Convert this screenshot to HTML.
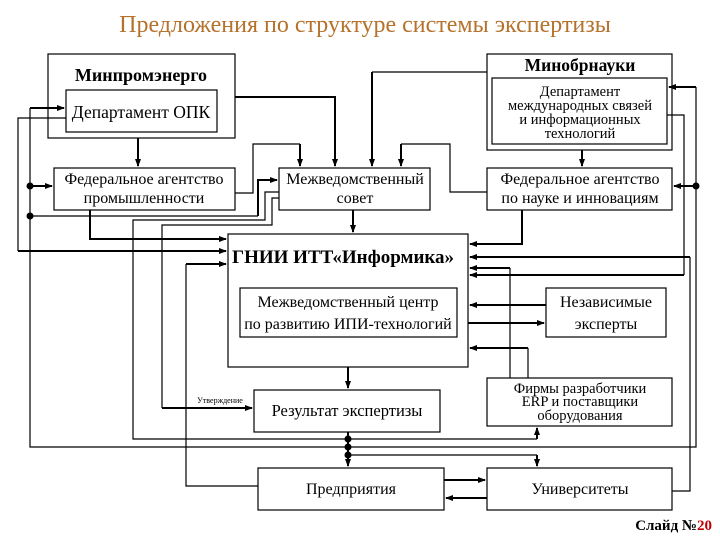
<!DOCTYPE html>
<html><head><meta charset="utf-8"><style>
html,body{margin:0;padding:0;background:#fff;}
svg{display:block;}
text{font-family:"Liberation Serif","DejaVu Serif",serif;fill:#000;}
</style></head><body>
<svg width="720" height="540" viewBox="0 0 720 540" xmlns="http://www.w3.org/2000/svg">
<defs>
<marker id="a" markerWidth="8" markerHeight="8" refX="7" refY="4" orient="auto" markerUnits="userSpaceOnUse">
<path d="M0,1 L8,4 L0,7 z" fill="#000"/></marker>
</defs>
<text x="365" y="32" font-size="24" text-anchor="middle" style="fill:#B5722C">Предложения по структуре системы экспертизы</text>

<g fill="#fff" stroke="#000" stroke-width="1.2">
<rect x="48" y="54" width="187" height="84"/>
<rect x="66" y="90" width="151" height="42"/>
<rect x="54" y="168" width="181" height="42"/>
<rect x="279" y="168" width="151" height="42"/>
<rect x="487" y="54" width="185" height="96"/>
<rect x="492" y="78" width="175" height="66"/>
<rect x="487" y="168" width="185" height="42"/>
<rect x="228" y="234" width="240" height="133"/>
<rect x="240" y="288" width="217" height="49"/>
<rect x="546" y="288" width="120" height="49"/>
<rect x="254" y="390" width="186" height="42"/>
<rect x="487" y="378" width="185" height="48"/>
<rect x="258" y="468" width="186" height="42"/>
<rect x="487" y="468" width="185" height="42"/>
</g>

<g font-size="16" text-anchor="middle">
<text x="141" y="81" font-size="18" font-weight="bold">Минпромэнерго</text>
<text x="141" y="118" font-size="17.5">Департамент ОПК</text>
<text x="144" y="184">Федеральное агентство</text>
<text x="144" y="203">промышленности</text>
<text x="355" y="184">Межведомственный</text>
<text x="355" y="203">совет</text>
<text x="580" y="71" font-size="17.5" font-weight="bold">Минобрнауки</text>
<text x="580" y="96" font-size="14.5">Департамент</text>
<text x="580" y="110" font-size="14.5">международных связей</text>
<text x="580" y="124" font-size="14.5">и информационных</text>
<text x="580" y="138" font-size="14.5">технологий</text>
<text x="580" y="184">Федеральное агентство</text>
<text x="580" y="203">по науке и инновациям</text>
<text x="232" y="263" font-size="19" font-weight="bold" text-anchor="start">ГНИИ ИТТ«Информика»</text>
<text x="348" y="307">Межведомственный центр</text>
<text x="348" y="329">по развитию ИПИ-технологий</text>
<text x="606" y="307">Независимые</text>
<text x="606" y="329">эксперты</text>
<text x="347" y="416" font-size="16.5">Результат экспертизы</text>
<text x="580" y="393" font-size="14.5">Фирмы разработчики</text>
<text x="580" y="406" font-size="14.5">ERP и поставщики</text>
<text x="580" y="420" font-size="14.5">оборудования</text>
<text x="351" y="494">Предприятия</text>
<text x="580" y="494">Университеты</text>
<text x="220" y="403" font-size="8" text-anchor="middle">Утверждение</text>
<text x="712" y="530" font-size="15" font-weight="bold" text-anchor="end">Слайд №<tspan style="fill:#C00000">20</tspan></text>
</g>

<g fill="none" stroke="#000" stroke-width="1.2">
<g stroke-width="2">
<path d="M138,138 V166" marker-end="url(#a)"/>
<path d="M235,97 H335 V166" marker-end="url(#a)"/>
<path d="M30,108 H64" marker-end="url(#a)"/>
<path d="M30,186 H52" marker-end="url(#a)"/>
<path d="M258,216 V180 H277" marker-end="url(#a)"/>
<path d="M90,210 V239 H226" marker-end="url(#a)"/>
<path d="M18,251 H226" marker-end="url(#a)"/>
<path d="M186,264 H226" marker-end="url(#a)"/>
<path d="M300,144 V166" marker-end="url(#a)"/>
<path d="M372,72 V166" marker-end="url(#a)"/>
<path d="M401,144 V166" marker-end="url(#a)"/>
<path d="M353,210 V232" marker-end="url(#a)"/>
<path d="M582,150 V166" marker-end="url(#a)"/>
<path d="M696,87 H669" marker-end="url(#a)"/>
<path d="M696,186 H674" marker-end="url(#a)"/>
<path d="M522,210 V244 H470" marker-end="url(#a)"/>
<path d="M690,257 H470" marker-end="url(#a)"/>
<path d="M510,268 H470" marker-end="url(#a)"/>
<path d="M684,275 H470" marker-end="url(#a)"/>
<path d="M546,305 H470" marker-end="url(#a)"/>
<path d="M468,323 H544" marker-end="url(#a)"/>
<path d="M528,348 H470" marker-end="url(#a)"/>
<path d="M348,367 V388" marker-end="url(#a)"/>
<path d="M162,408 H252" marker-end="url(#a)"/>
<path d="M348,432 V466" marker-end="url(#a)"/>
<path d="M537,439 V428" marker-end="url(#a)"/>
<path d="M537,455 V466" marker-end="url(#a)"/>
<path d="M444,480 H485" marker-end="url(#a)"/>
<path d="M487,498 H446" marker-end="url(#a)"/>
</g>
<path d="M66,118 H18 V251"/>
<path d="M30,108 V447 H696 V87"/>
<path d="M30,216 H258"/>
<path d="M235,193 H253 V144 H300"/>
<path d="M279,192 H265 V220 H133 V439 H537"/>
<path d="M279,198 H272 V225 H162 V408"/>
<path d="M487,72 H372"/>
<path d="M487,192 H450 V144 H401"/>
<path d="M667,115 H684 V275"/>
<path d="M672,491 H690 V257"/>
<path d="M510,378 V268"/>
<path d="M528,378 V348"/>
<path d="M258,486 H186 V264"/>
<path d="M348,455 H537"/>
</g>
<g fill="#000">
<circle cx="30" cy="186" r="3.5"/><circle cx="30" cy="216" r="3.5"/>
<circle cx="696" cy="186" r="3.5"/>
<circle cx="348" cy="439" r="3.5"/><circle cx="348" cy="447" r="3.5"/><circle cx="348" cy="455" r="3.5"/>
</g>
</svg>
</body></html>
